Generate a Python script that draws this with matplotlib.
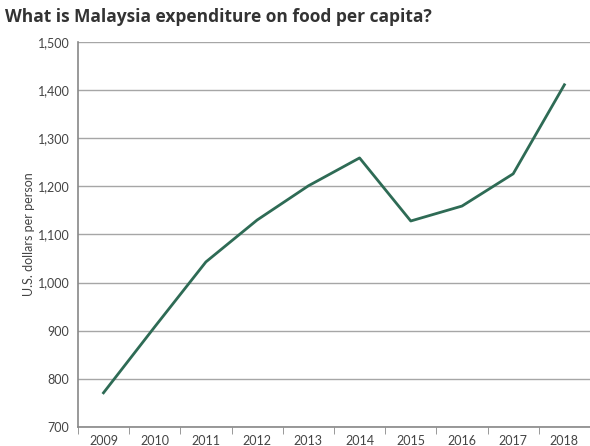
import matplotlib.pyplot as plt
import numpy as np

years = ['2009', '2010', '2011', '2012', '2013', '2014', '2015', '2016', '2017', '2018']
spend = [771, 908, 1043, 1130, 1201, 1259, 1128, 1159, 1226, 1411]
yticks = [700, 800, 900, 1000, 1100, 1200, 1300, 1400, 1500]

plt.rcParams['font.family'] = ['Lato', 'DejaVu Sans']

fig = plt.figure(figsize=(5.9, 4.46), dpi=100)
ax = fig.add_axes([0.132, 0.0426, 0.868, 0.8634])

x = np.arange(len(years))
ax.plot(x, spend, color='#2e6b55', lw=2, zorder=3)

ax.set_xlim(-0.5, len(years) - 0.5)
ax.set_ylim(700, 1500)
ax.set_yticks(yticks)
ax.set_yticklabels([f'{v:,}' for v in yticks], fontsize=9, color='#444444')
ax.grid(axis='y', color='#a6a6a6', lw=1)
ax.set_axisbelow(True)

# category labels centered, tick marks between categories
ax.set_xticks(x)
ax.set_xticklabels(years, fontsize=9, color='#444444')
ax.tick_params(axis='x', length=0, pad=6)
ax.set_xticks(np.arange(len(years) + 1) - 0.5, minor=True)
ax.tick_params(axis='x', which='minor', length=5, color='#888888', direction='out')
ax.tick_params(axis='y', length=0, pad=6)

for s in ['top', 'right']:
    ax.spines[s].set_visible(False)
for s in ['left', 'bottom']:
    ax.spines[s].set_color('#888888')
    ax.spines[s].set_linewidth(1.2)

ax.set_ylabel('U.S. dollars per person', fontsize=9, color='#444444', labelpad=2)

fig.text(0.008, 0.962, 'What is Malaysia expenditure on food per capita?',
         fontsize=12.5, fontweight='bold', color='#333333', va='center', ha='left',
         family=['Open Sans', 'DejaVu Sans'])

fig.savefig('out.png', dpi=100)
